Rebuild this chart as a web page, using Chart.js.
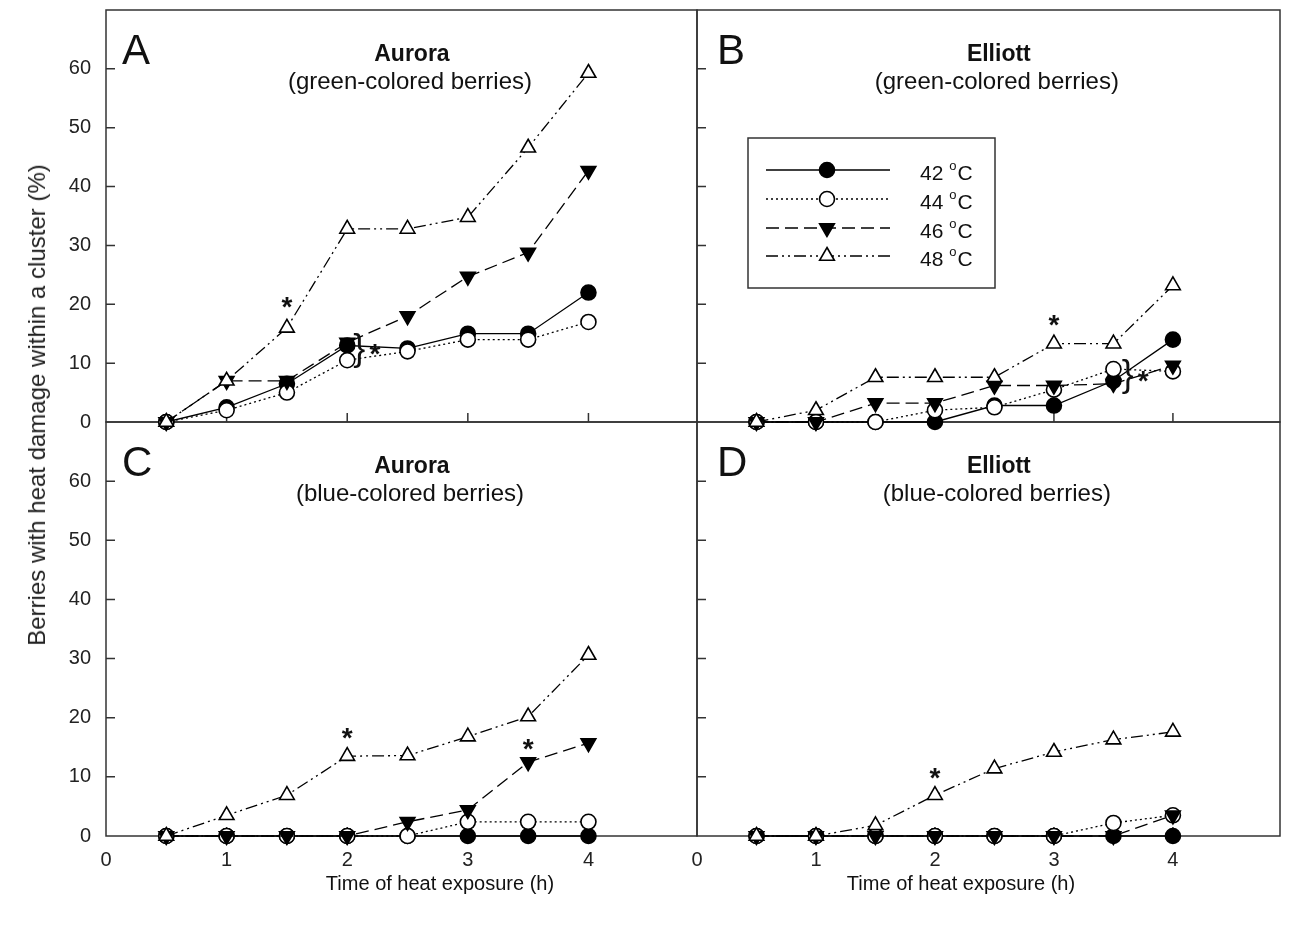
<!DOCTYPE html>
<html>
<head>
<meta charset="utf-8">
<title>Heat damage of berries within a cluster</title>
<script src="https://cdn.jsdelivr.net/npm/chart.js@4.4.1/dist/chart.umd.min.js"></script>
<style>
  html, body { margin: 0; padding: 0; background: #fff; }
  #page { position: relative; width: 1302px; height: 925px; overflow: hidden; background: #fff; }
  #page canvas { position: absolute; }
  #yTitle {
    position: absolute; left: 37px; top: 405px;
    transform: translate(-50%, -50%) rotate(-90deg);
    white-space: nowrap; font: 24px "Liberation Sans", Arial, sans-serif; color: #222;
  }
</style>
</head>
<body>
<div id="page">
  <canvas id="panelC" width="702" height="513" style="left:0;top:412px"></canvas>
  <canvas id="panelD" width="610" height="513" style="left:690px;top:412px"></canvas>
  <canvas id="panelA" width="702" height="440" style="left:0;top:0"></canvas>
  <canvas id="panelB" width="610" height="440" style="left:690px;top:0"></canvas>
  <div id="yTitle">Berries with heat damage within a cluster (%)</div>
</div>
<script>
// exposure times (h) and axis ticks
var hours = [0.5, 1, 1.5, 2, 2.5, 3, 3.5, 4];
var xTickValues = [0, 1, 2, 3, 4];
var yTickValues = [0, 10, 20, 30, 40, 50, 60];
var tempNames = ['42', '44', '46', '48'];

// % berries with heat damage
var auroraGreen42 = [0, 2.5, 6.5, 13, 12.5, 15, 15, 22];
var auroraGreen44 = [0, 2, 5, 10.5, 12, 14, 14, 17];
var auroraGreen46 = [0, 7, 7, 13.5, 18, 24.7, 28.8, 42.7];
var auroraGreen48 = [0, 7, 16, 32.8, 32.8, 34.8, 46.6, 59.3];

var elliottGreen42 = [0, 0, 0, 0, 2.8, 2.8, 7, 14];
var elliottGreen44 = [0, 0, 0, 2, 2.5, 5.5, 9, 8.6];
var elliottGreen46 = [0, 0, 3.2, 3.2, 6.2, 6.2, 6.5, 9.6];
var elliottGreen48 = [0, 2, 7.6, 7.6, 7.6, 13.3, 13.3, 23.2];

var auroraBlue42 = [0, 0, 0, 0, 0, 0, 0, 0];
var auroraBlue44 = [0, 0, 0, 0, 0, 2.4, 2.4, 2.4];
var auroraBlue46 = [0, 0, 0, 0, 2.4, 4.4, 12.5, 15.7];
var auroraBlue48 = [0, 3.5, 6.9, 13.5, 13.6, 16.8, 20.2, 30.6];

var elliottBlue42 = [0, 0, 0, 0, 0, 0, 0, 0];
var elliottBlue44 = [0, 0, 0, 0, 0, 0, 2.2, 3.5];
var elliottBlue46 = [0, 0, 0, 0, 0, 0, 0, 3.5];
var elliottBlue48 = [0, 0, 1.8, 6.9, 11.4, 14.2, 16.3, 17.6];

var FONT = '"Liberation Sans", Arial, sans-serif';

// look of each temperature series
var seriesLook = [
  { dash: [], point: 'circle', rot: 0, fill: '#000', r: 7.5 },
  { dash: [2, 3], point: 'circle', rot: 0, fill: '#fff', r: 7.5 },
  { dash: [13, 6], point: 'triangle', rot: 180, fill: '#000', r: 8.5 },
  { dash: [12, 4, 2, 4, 2, 4], point: 'triangle', rot: 0, fill: '#fff', r: 8.5 }
];

var panels = [
  { id: 'panelA', letter: 'A', letterX: 16, title: 'Aurora', sub: '(green-colored berries)',
    series: [auroraGreen42, auroraGreen44, auroraGreen46, auroraGreen48],
    yLabels: true, xLabels: false, pad: { left: 0, top: 10, right: 5, bottom: 18 },
    stars: [[1.5, 20.3], [2.23, 12.3]], braces: [[2.1, 12.2]] },
  { id: 'panelB', letter: 'B', letterX: 20, title: 'Elliott', sub: '(green-colored berries)',
    series: [elliottGreen42, elliottGreen44, elliottGreen46, elliottGreen48],
    yLabels: false, xLabels: false, pad: { left: 7, top: 10, right: 20, bottom: 18 },
    stars: [[3, 17.2], [3.75, 7.7]], braces: [[3.62, 7.7]], legend: true },
  { id: 'panelC', letter: 'C', letterX: 16, title: 'Aurora', sub: '(blue-colored berries)',
    series: [auroraBlue42, auroraBlue44, auroraBlue46, auroraBlue48],
    yLabels: true, xLabels: true, pad: { left: 0, top: 10, right: 5, bottom: 0 },
    stars: [[2, 17.3], [3.5, 15.5]], braces: [], xTitleAt: 334 },
  { id: 'panelD', letter: 'D', letterX: 20, title: 'Elliott', sub: '(blue-colored berries)',
    series: [elliottBlue42, elliottBlue44, elliottBlue46, elliottBlue48],
    yLabels: false, xLabels: true, pad: { left: 7, top: 10, right: 20, bottom: 0 },
    stars: [[2, 10.6]], braces: [], xTitleAt: 264 }
];

function drawGlyphCentered(ctx, text, font, cx, cy) {
  ctx.font = font;
  ctx.textAlign = 'left';
  ctx.textBaseline = 'alphabetic';
  var m = ctx.measureText(text);
  var x0 = cx - (m.actualBoundingBoxRight - m.actualBoundingBoxLeft) / 2;
  var y0 = cy - (m.actualBoundingBoxDescent - m.actualBoundingBoxAscent) / 2;
  ctx.fillText(text, x0, y0);
}

var panelDecor = {
  id: 'panelDecor',
  beforeDatasetsDraw: function (chart) {
    var a = chart.chartArea, ctx = chart.ctx;
    var xs = chart.scales.x, ys = chart.scales.y;
    ctx.save();
    ctx.strokeStyle = '#333';
    ctx.lineWidth = 1.5;
    ctx.strokeRect(a.left, a.top, a.right - a.left, a.bottom - a.top);
    ctx.beginPath();
    yTickValues.forEach(function (v) {
      if (v === 0) return;
      var py = ys.getPixelForValue(v);
      ctx.moveTo(a.left, py);
      ctx.lineTo(a.left + 9, py);
    });
    xTickValues.forEach(function (v) {
      if (v === 0) return;
      var px = xs.getPixelForValue(v);
      ctx.moveTo(px, a.bottom);
      ctx.lineTo(px, a.bottom - 9);
    });
    ctx.stroke();
    ctx.restore();
  },
  afterDraw: function (chart, args, o) {
    var a = chart.chartArea, ctx = chart.ctx;
    var xs = chart.scales.x, ys = chart.scales.y;
    ctx.save();
    ctx.fillStyle = '#111';
    ctx.textBaseline = 'alphabetic';

    ctx.font = '42px ' + FONT;
    ctx.textAlign = 'left';
    ctx.fillText(o.letter, a.left + o.letterX, a.top + 54);

    var tx = xs.getPixelForValue(2.52);
    ctx.textAlign = 'center';
    ctx.font = 'bold 23px ' + FONT;
    ctx.fillText(o.title, tx + 2, a.top + 51);
    ctx.font = '24px ' + FONT;
    ctx.fillText(o.sub, tx, a.top + 79);

    (o.stars || []).forEach(function (s) {
      drawGlyphCentered(ctx, '*', 'bold 28px ' + FONT, xs.getPixelForValue(s[0]), ys.getPixelForValue(s[1]));
    });
    (o.braces || []).forEach(function (b) {
      drawGlyphCentered(ctx, '}', '36px ' + FONT, xs.getPixelForValue(b[0]), ys.getPixelForValue(b[1]));
    });

    if (o.xTitleAt) {
      ctx.font = '20px ' + FONT;
      ctx.textAlign = 'center';
      ctx.fillText('Time of heat exposure (h)', a.left + o.xTitleAt, a.bottom + 54);
    }

    if (o.legend) {
      var bx = a.left + 51, by = a.top + 128;
      ctx.strokeStyle = '#333';
      ctx.lineWidth = 1.5;
      ctx.strokeRect(bx, by, 247, 150);
      var rows = [160, 189, 218, 246];
      chart.data.datasets.forEach(function (ds, i) {
        var ry = a.top + rows[i];
        ctx.save();
        ctx.strokeStyle = '#000';
        ctx.lineWidth = ds.borderWidth;
        ctx.setLineDash(ds.borderDash);
        ctx.beginPath();
        ctx.moveTo(a.left + 69, ry);
        ctx.lineTo(a.left + 193, ry);
        ctx.stroke();
        ctx.setLineDash([]);
        ctx.fillStyle = ds.pointBackgroundColor;
        ctx.lineWidth = ds.pointBorderWidth;
        Chart.helpers.drawPoint(ctx, {
          pointStyle: ds.pointStyle, rotation: ds.pointRotation,
          radius: ds.pointRadius, borderWidth: ds.pointBorderWidth
        }, a.left + 130, ry);
        ctx.restore();
        var lx = a.left + 223, ly = ry + 10;
        ctx.fillStyle = '#111';
        ctx.textAlign = 'left';
        ctx.font = '21px ' + FONT;
        ctx.fillText(tempNames[i], lx, ly);
        var w = ctx.measureText(tempNames[i] + ' ').width;
        ctx.font = '13px ' + FONT;
        ctx.fillText('o', lx + w, ly - 10);
        var w2 = ctx.measureText('o').width;
        ctx.font = '21px ' + FONT;
        ctx.fillText('C', lx + w + w2 + 1, ly);
      });
    }
    ctx.restore();
  }
};

function makePanel(p) {
  var datasets = p.series.map(function (vals, i) {
    var look = seriesLook[i];
    return {
      label: tempNames[i] + ' °C',
      data: hours.map(function (h, j) { return { x: h, y: vals[j] }; }),
      borderColor: '#000',
      borderWidth: 1.3,
      borderDash: look.dash,
      pointStyle: look.point,
      pointRotation: look.rot,
      pointRadius: look.r,
      pointBackgroundColor: look.fill,
      pointBorderColor: '#000',
      pointBorderWidth: 1.6,
      tension: 0,
      clip: false,
      order: 3 - i
    };
  });

  var tickFont = { family: FONT, size: 20 };

  new Chart(document.getElementById(p.id), {
    type: 'line',
    data: { datasets: datasets },
    options: {
      responsive: false,
      animation: false,
      devicePixelRatio: 1,
      layout: { padding: p.pad, autoPadding: false },
      plugins: {
        legend: { display: false },
        tooltip: { enabled: false },
        panelDecor: { letter: p.letter, letterX: p.letterX, title: p.title, sub: p.sub, stars: p.stars,
                      braces: p.braces, legend: p.legend, xTitleAt: p.xTitleAt }
      },
      scales: {
        x: {
          type: 'linear', min: 0, max: 4.9,
          display: p.xLabels,
          afterBuildTicks: function (s) { s.ticks = xTickValues.map(function (v) { return { value: v }; }); },
          afterFit: function (s) {
            s.height = p.xLabels ? 89 : 0;
            s.paddingLeft = 0; s.paddingRight = 0;
          },
          grid: { display: false, drawTicks: false },
          border: { display: false },
          ticks: { padding: 12, color: '#222', font: tickFont, maxRotation: 0, autoSkip: false }
        },
        y: {
          type: 'linear', min: 0, max: 70,
          display: p.yLabels,
          afterBuildTicks: function (s) { s.ticks = yTickValues.map(function (v) { return { value: v }; }); },
          afterFit: function (s) {
            s.width = p.yLabels ? 106 : 0;
            s.paddingTop = 0; s.paddingBottom = 0;
          },
          grid: { display: false, drawTicks: false },
          border: { display: false },
          ticks: { padding: 15, color: '#222', font: tickFont, autoSkip: false }
        }
      }
    },
    plugins: [panelDecor]
  });
}

panels.forEach(makePanel);
</script>
</body>
</html>
